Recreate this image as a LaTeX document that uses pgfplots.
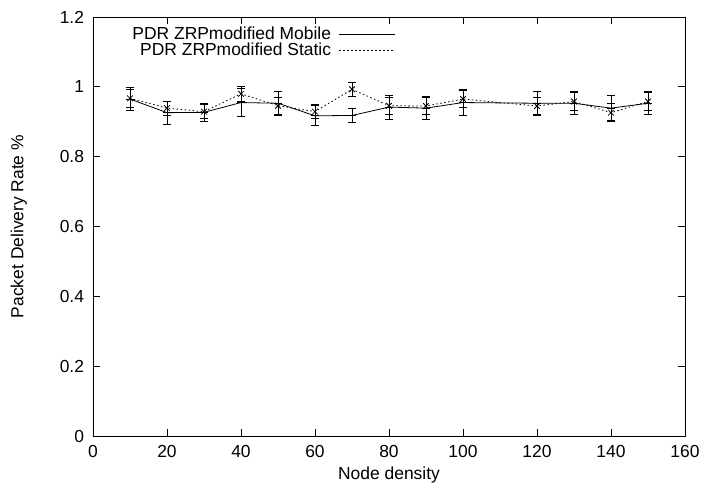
\documentclass[border=0pt]{standalone}
\usepackage{pgfplots}
\pgfplotsset{compat=1.18}
\usepackage{fontspec}
\setmainfont{Liberation Sans}
\begin{document}
\fontsize{17.5}{20}\selectfont
\begin{tikzpicture}
\begin{axis}[
  scale only axis,
  width=592bp, height=419bp,
  xmin=0, xmax=160, ymin=0, ymax=1.2,
  xtick={0,20,...,160},
  ytick={0,0.2,0.4,0.6,0.8,1,1.2},
  yticklabels={0,0.2,0.4,0.6,0.8,1,1.2},
  tick align=inside,
  major tick length=7bp,
  axis line style={line width=0.9bp},
  tick style={line width=0.8bp, black},
  /pgf/number format/assume math mode=true,
  xticklabel style={yshift=-3bp},
  yticklabel style={xshift=-3bp},
  xlabel={Node density},
  ylabel={Packet Delivery Rate \%},
  xlabel style={yshift=2bp},
  ylabel style={yshift=21bp},
  legend style={draw=none, fill=none, at={(0.513,0.985)}, anchor=north east,
    font=\fontsize{17.5}{17}\selectfont, row sep=-3bp, inner sep=1bp},
  legend cell align=right,
  legend plot pos=right,
  legend image code/.code={\path[draw=none,fill=none] (0bp,0bp) -- (62bp,0bp);\draw[#1] (6bp,0bp) -- (62bp,0bp);},
]
\addplot[black, line width=0.8bp, mark=+, mark size=4bp,
  error bars/.cd, y dir=both, y explicit,
  error mark options={black, line width=0.9bp, mark size=4bp, rotate=90},
  error bar style={line width=0.9bp}]
  table[x=x, y=y, y error=e] {
x y e
10 0.965 0.032
20 0.926 0.033
30 0.927 0.026
40 0.955 0.040
50 0.953 0.035
60 0.917 0.029
70 0.918 0.020
80 0.942 0.034
90 0.939 0.033
100 0.955 0.037
120 0.953 0.035
130 0.953 0.033
140 0.939 0.035
150 0.953 0.033
};
\addlegendentry{PDR ZRPmodified Mobile}
\addplot[black, line width=0.8bp, dash pattern=on 1.5bp off 2.5bp, mark=x, mark size=4bp,
  mark options={solid},
  error bars/.cd, y dir=both, y explicit,
  error mark options={black, solid, line width=0.9bp, mark size=4bp, rotate=90},
  error bar style={solid, line width=0.9bp}]
  table[x=x, y=y, y error=e] {
x y e
10 0.967 0.025
20 0.939 0.020
30 0.929 0.020
40 0.980 0.022
50 0.946 0.025
60 0.929 0.020
70 0.993 0.020
80 0.946 0.025
90 0.945 0.025
100 0.965 0.025
120 0.945 0.025
130 0.958 0.025
140 0.926 0.025
150 0.958 0.025
};
\addlegendentry{PDR ZRPmodified Static}
\end{axis}
\path (-93bp,-53bp) rectangle (617bp,436bp);
\end{tikzpicture}
\end{document}
